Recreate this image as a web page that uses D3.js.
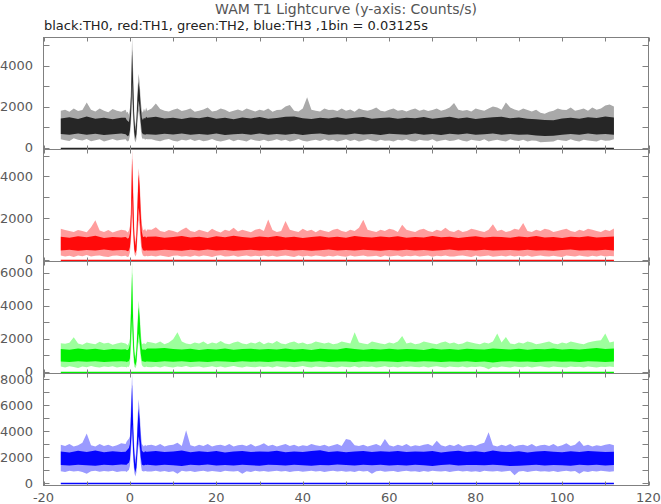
<!DOCTYPE html>
<html><head><meta charset="utf-8">
<script src="https://cdn.jsdelivr.net/npm/d3@7"></script>
<style>
body{margin:0;background:#fff}
svg{display:block}
text{font-family:"DejaVu Sans",sans-serif}
</style>
</head><body>
<svg id="c" width="661" height="504"></svg>
<script>
// ---------------- data ----------------
const titleText = "WAM T1 Lightcurve (y-axis: Counts/s)";
const subtitleText = "black:TH0, red:TH1, green:TH2, blue:TH3 ,1bin = 0.03125s";
const xDomain = [-20, 120];
const xTickLabels = [-20, 0, 20, 40, 60, 80, 100, 120];
const xMinorStep = 10;
const tStart = -16, tEnd = 112;     // data span in seconds
const bgStep = 1;                    // outer envelope sampled every 1 s
const coreStep = 2;                  // core envelope sampled every 2 s
const burstT = [-1,-0.75,-0.5,-0.25,0,0.25,0.5,0.75,1,1.25,1.5,1.75,2,2.25,2.5,2.75,3,3.25,3.5,3.75,4];

// panel y ranges (counts/s)
const yMin = [-95, -95, -120, -190];
const yMax = [5370, 5300, 6670, 8420];
const yLabelTicks = [[0,2000,4000],[0,2000,4000],[0,2000,4000,6000],[0,2000,4000,6000,8000]];
const yMinorStep = 1000;

// ---- TH0 (black) ----
const th0Hi = [1800,1850,1750,1900,1780,1830,2200,1850,1760,1900,
1800,1720,1880,1790,1750,1820,1850,1850,1850,1850,
1850,1900,2150,1880,1800,1760,1850,1900,1780,1830,
1900,1750,1800,1860,1950,1760,1800,1900,1850,1740,
1800,1860,1780,1900,1830,1760,1850,1800,1900,1750,
1830,1850,2000,2080,1800,1760,1900,2450,1850,1800,
1760,1900,1830,1850,1780,1900,1800,1860,1750,1900,
1830,1800,1860,1950,1800,1760,1850,1900,1800,1830,
1760,1850,1900,1800,1860,1780,1830,1900,1800,1860,
1950,2170,1850,1800,1830,1760,1900,1850,1800,1900,
2000,1950,1850,2200,1950,1860,1800,1900,1830,1760,
1850,1700,1650,1750,1800,1900,1850,1830,1950,1800,
1850,1900,1800,1950,1850,1900,2050,2100,2000];
const th0Lo = [400,360,320,450,380,340,420,310,360,400,
300,360,420,340,380,330,380,380,380,380,
380,400,350,310,380,420,330,300,380,350,
400,320,380,310,350,420,330,290,350,400,
310,380,340,300,400,350,320,380,310,350,
400,330,380,300,350,420,330,300,350,380,
320,400,330,380,300,350,400,320,380,300,
340,400,350,300,380,330,350,300,380,350,
400,320,300,380,350,330,400,300,350,380,
320,350,400,330,300,380,350,320,400,300,
350,380,330,300,400,350,320,380,300,350,
330,260,270,280,300,380,350,320,400,330,
300,380,350,320,300,380,330,350,400];
const th0CoreHi = [1420,1480,1390,1520,1410,1460,1380,1450,1450,1450,1450,1500,1420,
1460,1390,1470,1430,1500,1400,1450,1380,1470,1420,1490,1410,1440,
1500,1520,1430,1390,1460,1420,1480,1400,1450,1490,1410,1440,1470,
1400,1460,1430,1490,1410,1450,1500,1420,1470,1390,1440,1480,1500,
1430,1470,1400,1380,1350,1330,1420,1460,1400,1480,1440,1510,1470];
const th0CoreLo = [660,620,680,630,670,610,650,690,650,650,650,620,670,
640,690,620,660,630,680,610,650,670,630,690,620,660,
630,670,610,660,690,630,650,620,680,640,660,610,670,
650,620,680,630,660,610,670,640,690,620,650,680,630,
660,620,640,590,560,570,620,660,630,680,640,660,620];
const th0BurstHi = [1850,1700,1750,1600,1900,2900,5370,3700,1700,1000,1500,2800,3600,3200,2300,1800,1700,1900,1750,1950,1800];
const th0BurstLo = [400,330,300,350,600,1200,2400,1300,450,250,400,1200,1800,1500,900,500,400,450,380,420,400];
const th0BurstCoreHi = [1450,1350,1300,1250,1550,2500,4800,3100,1400,800,1250,2400,3200,2800,1950,1450,1350,1450,1400,1500,1450];
const th0BurstCoreLo = [650,600,550,600,850,1600,3200,1800,750,420,650,1600,2300,1950,1250,750,650,650,620,650,650];

// ---- TH1 (red) ----
const th1Hi = [1480,1420,1380,1330,1420,1370,1320,1550,1890,1400,
1330,1420,1300,1380,1430,1350,1400,1400,1400,1400,
1400,1430,1560,1380,1330,1420,1380,1300,1430,1540,
1380,1330,1430,1370,1320,1480,1380,1300,1430,1370,
1530,1350,1430,1380,1320,1430,1480,1370,1930,1420,
1330,1380,1850,1430,1370,1330,1480,1380,1430,1320,
1430,1380,1330,1430,1480,1380,1330,1430,1380,1530,
1920,1430,1380,1330,1430,1380,1480,1430,1330,1680,
1430,1380,1330,1430,1480,1380,1330,1430,1380,1530,
1380,1330,1430,1330,1380,1480,1430,1380,1330,1430,
1700,1380,1430,1330,1380,1480,1430,1760,1380,1330,
1430,1380,1480,1430,1330,1380,1430,1480,1380,1330,
1430,1380,1480,1430,1380,1330,1430,1380,1500];
const th1Lo = [200,150,180,120,200,160,220,140,180,200,
150,120,180,200,160,140,170,170,170,170,
170,180,140,200,160,120,180,200,150,170,
130,190,150,200,170,120,180,210,150,160,
190,130,170,200,140,180,160,200,150,180,
130,170,200,160,120,190,150,180,140,200,
170,130,180,150,200,160,130,190,150,170,
200,140,160,180,120,190,150,170,200,130,
180,160,200,150,170,190,130,180,160,200,
150,140,180,200,160,120,190,150,170,200,
130,160,180,150,200,140,180,150,190,130,
170,200,160,140,180,150,120,190,170,150,
200,160,130,180,150,200,140,170,160];
const th1CoreHi = [1100,1050,1120,1070,1140,1040,1090,1060,1080,1080,1080,1110,1050,
1090,1130,1060,1100,1040,1120,1070,1150,1080,1050,1110,1070,1130,
1060,1100,1040,1090,1120,1060,1100,1050,1130,1080,1060,1110,1070,
1120,1050,1090,1060,1130,1070,1100,1040,1090,1120,1060,1100,1080,
1050,1110,1070,1130,1060,1090,1040,1100,1070,1120,1060,1090,1110];
const th1CoreLo = [440,470,420,460,430,480,440,460,450,450,450,430,470,
450,420,470,440,480,430,460,420,450,470,430,460,440,
470,430,460,420,450,480,440,460,430,470,450,420,460,
440,470,430,460,420,450,480,440,460,430,470,440,450,
460,430,470,440,450,420,460,480,440,450,430,470,440];
const th1BurstHi = [1400,1350,1300,1400,1600,2600,5300,3600,1500,850,1400,3000,4400,3900,2600,1700,1450,1400,1500,1350,1450];
const th1BurstLo = [180,150,120,160,350,900,2200,1100,300,150,250,1100,1900,1600,800,350,200,170,150,180,160];
const th1BurstCoreHi = [1080,1050,1000,1050,1250,2200,4900,3000,1200,650,1100,2600,4100,3500,2200,1350,1100,1080,1120,1050,1100];
const th1BurstCoreLo = [450,420,400,430,600,1300,3000,1500,500,300,450,1500,2500,2100,1200,600,450,440,420,450,430];

// ---- TH2 (green) ----
const th2Hi = [1720,1680,1750,2080,1700,1620,1760,1700,1660,1800,
1700,1750,1620,1700,1760,1680,1700,1700,1700,1700,
1700,1760,1700,1820,1650,1760,1950,2380,1820,1700,
1660,1760,1700,1820,1650,1760,1700,1850,1700,1650,
1760,1820,1700,1650,1760,1700,1820,1660,1760,1700,
1850,1700,1650,1760,1820,1700,1760,1650,1700,1820,
1760,1700,1760,1650,1700,1820,1760,1700,2380,1760,
1700,1650,1820,1760,1700,1650,1760,1700,1820,2150,
1700,1760,1650,1700,1820,1760,1700,1650,1760,1820,
1700,1760,1650,1700,1820,1760,1700,1650,1760,1700,
1820,2300,1760,2100,1700,1650,1760,1700,1820,1760,
1650,1700,1760,1820,1700,1650,1760,1700,1820,1760,
1700,1650,1760,1820,1860,1900,2300,1760,1820];
const th2Lo = [300,250,320,280,220,300,260,330,280,240,
300,270,320,250,290,310,280,280,280,280,
280,260,300,240,320,280,250,300,270,330,
260,290,300,240,280,320,260,300,250,290,
330,270,240,300,280,260,310,270,300,250,
320,280,240,300,260,290,330,270,250,300,
280,260,310,270,240,300,280,260,320,250,
290,270,300,240,280,320,260,290,250,300,
270,310,280,260,300,250,290,320,270,240,
300,280,260,310,250,290,270,300,260,140,
280,250,300,270,240,310,280,260,300,250,
290,320,270,240,300,280,260,240,310,270,
290,250,300,270,240,290,280,300,270];
const th2CoreHi = [1370,1320,1400,1340,1380,1310,1360,1330,1350,1350,1350,1390,1420,
1360,1330,1380,1310,1370,1340,1400,1320,1360,1380,1330,1370,1340,
1390,1330,1360,1310,1380,1350,1330,1420,1360,1320,1370,1340,1380,
1330,1370,1350,1310,1390,1340,1360,1320,1380,1350,1330,1400,1360,
1340,1380,1320,1370,1350,1390,1330,1360,1340,1380,1420,1370,1390];
const th2CoreLo = [610,580,630,590,620,570,600,630,600,600,600,580,620,
590,630,570,610,580,620,600,570,630,590,610,580,620,
600,570,620,590,630,580,610,600,570,620,590,630,600,
580,620,590,630,600,570,610,590,620,580,600,550,610,
620,590,610,570,600,630,590,610,580,620,600,580,610];
const th2BurstHi = [1700,1650,1600,1750,2000,4200,6670,3500,1500,900,1500,3000,4300,3700,2400,1700,1650,1750,1650,1700,1800];
const th2BurstLo = [280,250,300,270,450,1500,2500,1000,300,200,350,1200,1800,1500,800,400,300,280,260,300,280];
const th2BurstCoreHi = [1350,1300,1300,1400,1650,3600,6000,2900,1200,700,1250,2600,3900,3300,2000,1400,1300,1350,1300,1350,1400];
const th2BurstCoreLo = [600,580,600,620,800,2200,3300,1500,550,350,600,1600,2300,1900,1100,650,600,600,580,600,610];

// ---- TH3 (blue) ----
const th3Hi = [2950,2850,3000,2800,2900,3100,3800,2900,2800,3000,
2850,2950,2800,2900,3050,2850,2900,2900,2900,2900,
2900,2950,2850,3000,2800,2900,2950,3100,2850,4050,
2900,2800,2950,2850,3000,2800,2900,2950,2850,3000,
2800,2900,2950,2850,3000,2800,2900,3050,2850,2950,
2800,2900,3000,2850,2950,2800,2900,2850,3000,2900,
2850,2950,2800,2900,3000,2850,3380,3300,2900,2850,
2950,2800,2900,3000,2850,3380,2900,2800,2950,2850,
3000,2800,2900,2850,2950,3000,2850,3250,2900,2800,
2950,2850,3000,2800,2900,2950,2850,3000,3100,3900,
2900,2800,2950,2850,3000,2800,2900,2950,2850,3000,
2800,2900,2950,2850,3000,2800,2900,3050,2850,2950,
3250,2850,2950,2800,2900,2850,2950,3000,2900];
const th3Lo = [900,850,950,880,920,850,720,900,950,870,
920,880,950,850,900,930,900,900,900,900,
900,880,950,870,920,850,900,720,950,880,
920,850,900,950,870,920,880,850,950,900,
880,920,720,900,850,950,880,920,870,900,
950,880,920,850,900,930,870,900,950,880,
920,850,900,950,880,920,870,900,850,950,
880,920,720,900,950,870,900,920,850,900,
950,880,900,850,920,870,950,900,880,920,
850,900,950,880,920,870,900,850,950,900,
880,920,870,900,950,590,880,920,850,900,
950,880,900,870,920,850,900,950,880,920,
720,900,850,920,880,950,900,870,900];
const th3CoreHi = [2420,2350,2480,2390,2500,2360,2440,2380,2400,2400,2400,2460,2380,
2430,2510,2370,2440,2390,2470,2350,2420,2460,2380,2430,2400,2480,
2370,2430,2390,2460,2520,2380,2440,2360,2420,2470,2390,2440,2410,
2460,2380,2430,2400,2470,2350,2420,2480,2390,2440,2370,2500,2410,
2380,2440,2350,2420,2460,2400,2370,2440,2390,2470,2420,2380,2410];
const th3CoreLo = [1390,1340,1410,1360,1320,1400,1370,1420,1380,1380,1380,1350,1410,
1370,1310,1400,1360,1420,1350,1390,1340,1410,1370,1330,1400,1380,
1350,1410,1370,1330,1390,1360,1420,1380,1340,1400,1370,1410,1350,
1390,1340,1400,1360,1310,1380,1420,1350,1390,1390,1360,1400,1370,
1300,1330,1370,1410,1350,1390,1360,1330,1400,1370,1410,1350,1390];
const th3BurstHi = [3000,3200,3300,3400,3600,6000,8420,5000,2800,1800,2600,4800,6450,5600,4000,3000,2900,2800,2950,2850,2900];
const th3BurstLo = [900,850,950,1000,1300,2500,3800,1800,800,500,800,2000,3000,2500,1500,950,900,880,920,900,880];
const th3BurstCoreHi = [2400,2500,2600,2700,3000,5200,7600,4200,2300,1400,2200,4200,5700,4900,3400,2500,2400,2350,2450,2400,2400];
const th3BurstCoreLo = [1400,1400,1500,1550,1800,3200,4500,2400,1200,800,1200,2600,3600,3100,2000,1400,1380,1350,1400,1380,1400];

const seriesColors = {core:["#262626","#ff0a0a","#00f000","#0505ff"], outer:["#a9a9a9","#ff9d9d","#9cff9c","#9a9aff"]};

// ---------------- drawing ----------------
const svg = d3.select("#c");
const left = 43.5, right = 648.5, top0 = 37.5, panelH = 112;
const x = d3.scaleLinear().domain(xDomain).range([left, right]);
const frameColor = "#808080", labelColor = "#5a5a5a";

svg.append("text").attr("x", (left+right)/2).attr("y", 14).attr("text-anchor","middle")
  .attr("font-size", 14).attr("fill", "#555").text(titleText);
svg.append("text").attr("x", 44).attr("y", 30).attr("text-anchor","start")
  .attr("font-size", 13).attr("fill", "#222").text(subtitleText);

const series = [
  {hi:th0Hi, lo:th0Lo, ch:th0CoreHi, cl:th0CoreLo, bh:th0BurstHi, bl:th0BurstLo, bch:th0BurstCoreHi, bcl:th0BurstCoreLo},
  {hi:th1Hi, lo:th1Lo, ch:th1CoreHi, cl:th1CoreLo, bh:th1BurstHi, bl:th1BurstLo, bch:th1BurstCoreHi, bcl:th1BurstCoreLo},
  {hi:th2Hi, lo:th2Lo, ch:th2CoreHi, cl:th2CoreLo, bh:th2BurstHi, bl:th2BurstLo, bch:th2BurstCoreHi, bcl:th2BurstCoreLo},
  {hi:th3Hi, lo:th3Lo, ch:th3CoreHi, cl:th3CoreLo, bh:th3BurstHi, bl:th3BurstLo, bch:th3BurstCoreHi, bcl:th3BurstCoreLo}
];

function build(hi, lo, step, bHi, bLo){
  const b0 = burstT[0], b1 = burstT[burstT.length-1];
  const pts = [];
  hi.forEach((h,i)=>{ const t = tStart + i*step; if (t < b0 || t > b1) pts.push({t, hi:h, lo:lo[i]}); });
  burstT.forEach((t,i)=>pts.push({t, hi:bHi[i], lo:bLo[i]}));
  pts.sort((a,b)=>a.t-b.t);
  return pts;
}

const defs = svg.append("defs");
series.forEach((s, p) => {
  const pTop = top0 + p*panelH, pBot = pTop + panelH;
  const y = d3.scaleLinear().domain([yMin[p], yMax[p]]).range([pBot, pTop]);
  defs.append("clipPath").attr("id","clip"+p).append("rect")
    .attr("x", left).attr("y", pTop).attr("width", right-left).attr("height", panelH);
  const g = svg.append("g").attr("clip-path", `url(#clip${p})`);
  const area = d3.area().x(d=>x(d.t)).y0(d=>y(d.lo)).y1(d=>y(d.hi));
  g.append("path").datum(build(s.hi, s.lo, bgStep, s.bh, s.bl))
    .attr("d", area).attr("fill", seriesColors.outer[p]);
  g.append("path").datum(build(s.ch, s.cl, coreStep, s.bch, s.bcl))
    .attr("d", area).attr("fill", seriesColors.core[p]);
  // zero baseline
  g.append("line").attr("x1", x(tStart)).attr("x2", x(tEnd))
    .attr("y1", Math.round(y(0))+0.5).attr("y2", Math.round(y(0))+0.5)
    .attr("stroke", seriesColors.core[p]).attr("stroke-width", 1.3);

  // frame
  const fg = svg.append("g").attr("stroke", frameColor).attr("stroke-width", 1).attr("fill","none");
  fg.append("rect").attr("x", left).attr("y", pTop).attr("width", right-left).attr("height", panelH);
  d3.range(xDomain[0], xDomain[1]+0.001, xMinorStep).forEach(v => {
    const xx = Math.round(x(v)) + 0.5;
    fg.append("line").attr("x1", xx).attr("x2", xx).attr("y1", pTop).attr("y2", pTop+4);
    fg.append("line").attr("x1", xx).attr("x2", xx).attr("y1", pBot).attr("y2", pBot-4);
  });
  d3.range(0, yMax[p]+1, yMinorStep).forEach(v => {
    const yy = Math.round(y(v)) + 0.5;
    fg.append("line").attr("x1", left).attr("x2", left+6).attr("y1", yy).attr("y2", yy);
    fg.append("line").attr("x1", right).attr("x2", right-6).attr("y1", yy).attr("y2", yy);
  });
  yLabelTicks[p].forEach(v => {
    svg.append("text").attr("x", 33).attr("y", y(v)).attr("dy","0.36em")
      .attr("text-anchor","end").attr("font-size", 13).attr("fill", labelColor).text(v);
  });
});

xTickLabels.forEach(v => {
  svg.append("text").attr("x", x(v)).attr("y", 502).attr("text-anchor","middle")
    .attr("font-size", 13).attr("fill", labelColor).text(v);
});
</script>
</body></html>
